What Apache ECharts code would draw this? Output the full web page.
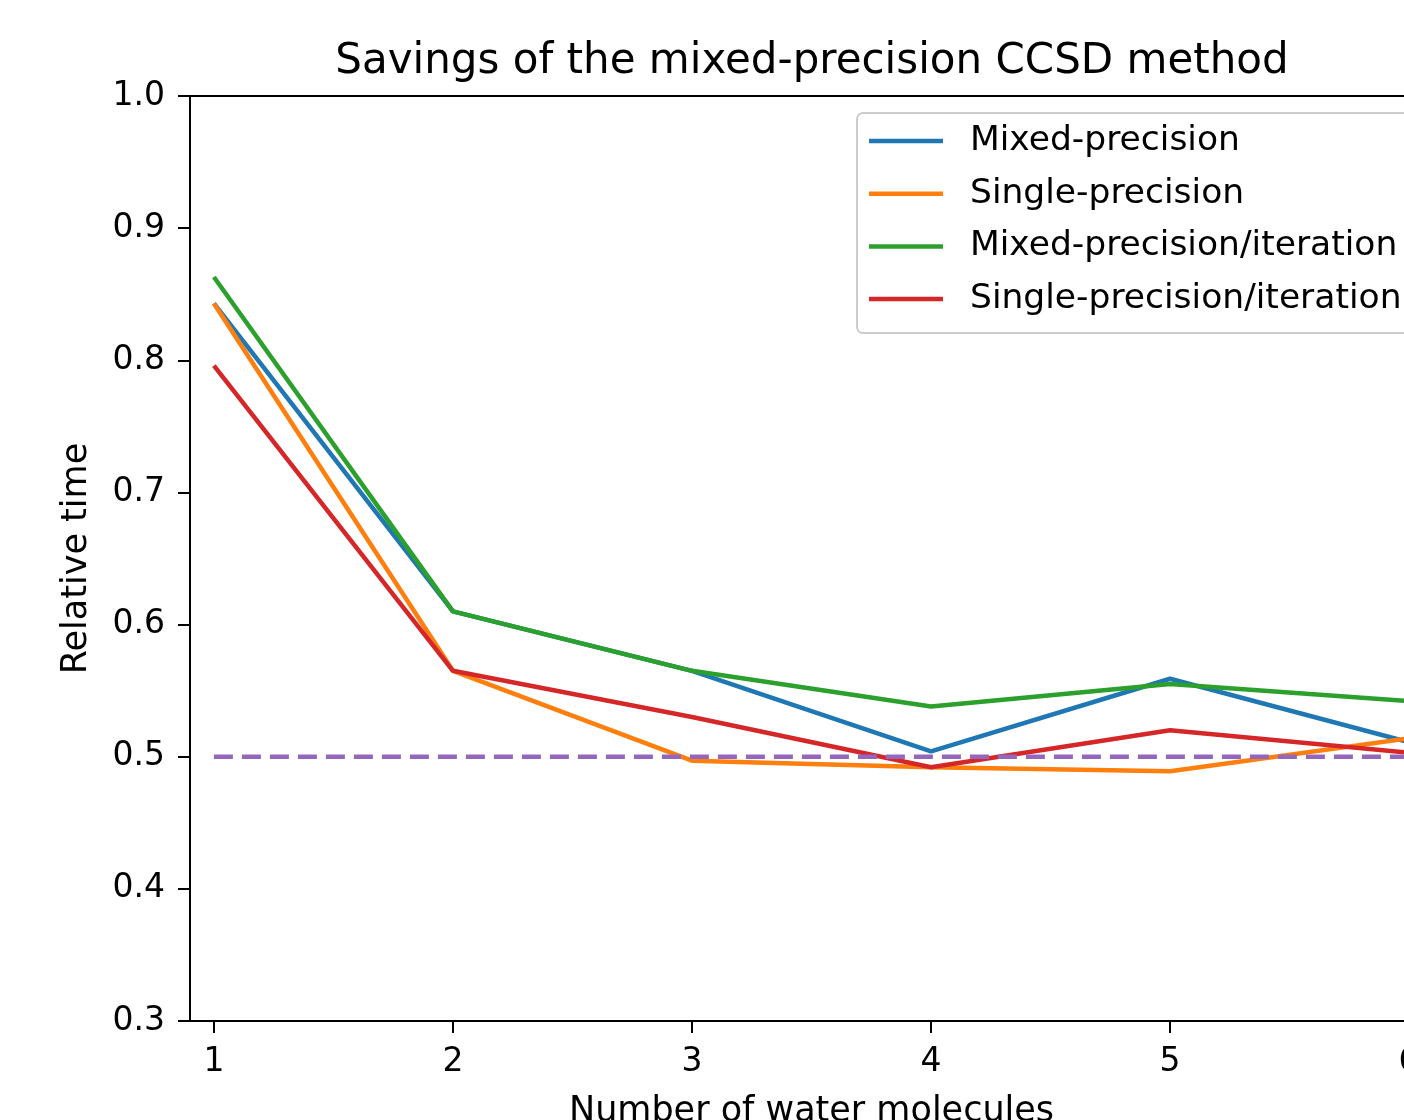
<!DOCTYPE html>
<html>
<head>
<meta charset="utf-8">
<script src="https://cdn.jsdelivr.net/npm/echarts@6/dist/echarts.min.js"></script>
<style>
html,body{margin:0;padding:0;background:#fff;overflow:hidden;}
#chart{width:1404px;height:1120px;}
</style>
</head>
<body>
<div id="chart"></div>
<script>
const waterMolecules = [1, 2, 3, 4, 5, 6];
const mixedPrecision = [0.843, 0.610, 0.565, 0.504, 0.559, 0.511];
const singlePrecision = [0.843, 0.565, 0.497, 0.492, 0.489, 0.514];
const mixedPerIteration = [0.863, 0.610, 0.565, 0.538, 0.555, 0.542];
const singlePerIteration = [0.796, 0.565, 0.530, 0.492, 0.520, 0.503];
const referenceLevel = [0.5, 0.5, 0.5, 0.5, 0.5, 0.5];
const yTicks = [0.3, 0.4, 0.5, 0.6, 0.7, 0.8, 0.9, 1.0];

const FONT = 'DejaVu Sans';
const pairs = (ys) => waterMolecules.map((x, i) => [x, ys[i]]);

const chart = echarts.init(document.getElementById('chart'), null, {renderer: 'canvas'});
const lineSeries = (name, ys, color) => ({
  name, type: 'line', data: pairs(ys), showSymbol: false, symbol: 'none',
  lineStyle: {color, width: 4.5}, itemStyle: {color}, z: 3
});

chart.setOption({
  animation: false,
  backgroundColor: '#ffffff',
  title: {
    text: 'Savings of the mixed-precision CCSD method',
    left: 812, top: 41, padding: 0, textAlign: 'center',
    textStyle: {fontFamily: FONT, fontSize: 42, fontWeight: 'normal', color: '#000'}
  },
  legend: {
    orient: 'vertical', left: 857, top: 113,
    data: ['Mixed-precision', 'Single-precision', 'Mixed-precision/iteration', 'Single-precision/iteration'],
    icon: 'rect', itemWidth: 74, itemHeight: 4.5, itemGap: 10.7,
    padding: [7, 14, 13, 12],
    borderColor: '#cccccc', borderWidth: 2, borderRadius: 6,
    backgroundColor: 'rgba(255,255,255,0.8)',
    textStyle: {fontFamily: FONT, fontSize: 34.5, color: '#000', lineHeight: 42, padding: [0, 0, 0, 22]}
  },
  grid: {
    left: 190, top: 96, right: -29, bottom: 99, containLabel: false,
    outerBoundsMode: 'none',
    show: true, borderColor: '#000', borderWidth: 2, backgroundColor: 'transparent'
  },
  xAxis: {
    type: 'value', min: 0.9, max: 6.1,
    name: 'Number of water molecules', nameLocation: 'middle', nameGap: 73,
    nameTextStyle: {fontFamily: FONT, fontSize: 35, color: '#000'},
    axisLine: {show: true, onZero: false, lineStyle: {color: '#000', width: 2}},
    axisTick: {show: true, length: 12, lineStyle: {color: '#000', width: 2}, customValues: waterMolecules},
    axisLabel: {fontFamily: FONT, fontSize: 33, color: '#000', margin: 25, customValues: waterMolecules,
      formatter: v => String(v)},
    splitLine: {show: false}
  },
  yAxis: {
    type: 'value', min: 0.3, max: 1.0, interval: 0.1,
    name: 'Relative time', nameLocation: 'middle', nameRotate: 90, nameGap: 96,
    nameTextStyle: {fontFamily: FONT, fontSize: 35, color: '#000'},
    axisLine: {show: true, lineStyle: {color: '#000', width: 2}},
    axisTick: {show: true, length: 12, lineStyle: {color: '#000', width: 2}},
    axisLabel: {fontFamily: FONT, fontSize: 33, color: '#000', margin: 25,
      customValues: yTicks, formatter: v => Number(v).toFixed(1)},
    splitLine: {show: false}
  },
  series: [
    lineSeries('Mixed-precision', mixedPrecision, '#1f77b4'),
    lineSeries('Single-precision', singlePrecision, '#ff7f0e'),
    lineSeries('Mixed-precision/iteration', mixedPerIteration, '#2ca02c'),
    lineSeries('Single-precision/iteration', singlePerIteration, '#d62728'),
    {
      name: 'Half', type: 'line', data: pairs(referenceLevel), showSymbol: false, symbol: 'none',
      lineStyle: {color: '#9467bd', width: 4.5, type: [19, 9]}, itemStyle: {color: '#9467bd'}, z: 4
    }
  ]
});
</script>
</body>
</html>
